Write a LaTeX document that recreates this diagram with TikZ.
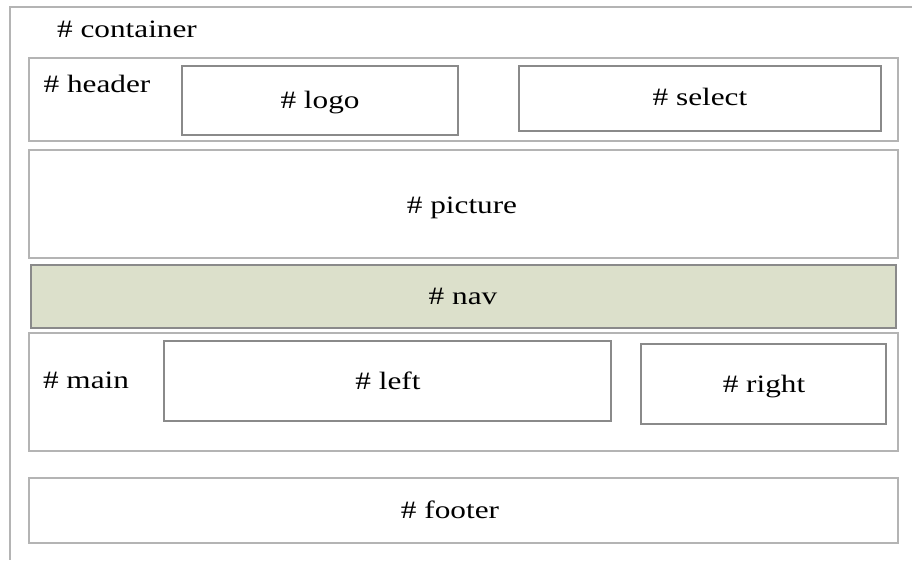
\documentclass[tikz,border=0pt]{standalone}
\usepackage{fontspec}
\setmainfont{Liberation Serif}[FakeStretch=1.25]
\usepackage{xcolor}
\usepackage{tikz}
\definecolor{outerline}{HTML}{B4B4B4}
\definecolor{innerline}{HTML}{8A8A8A}
\definecolor{navfill}{HTML}{DCE0CB}

\begin{document}
\begin{tikzpicture}[x=0.5pt,y=-0.5pt]
\tikzset{outer/.style={draw=outerline, line width=0.8pt},
  inner/.style={draw=innerline, line width=0.7pt},
  lbl/.style={anchor=base, inner sep=0pt, font=\fontsize{12.5}{15}\selectfont}};
\useasboundingbox (0,0) rectangle (912,561);
% container
\draw[outer] (912,7) -- (10,7) -- (10,560);
\node [lbl] (container) at (127,38) {\# container};
% header
\draw[outer] (29,58) rectangle (898,141);
\node [lbl] (header) at (97,93) {\# header};
\draw[inner] (182,66) rectangle (458,135);
\node [lbl] (logo) at (320,109) {\# logo};
\draw[inner] (519,66) rectangle (881,131);
\node [lbl] (select) at (700,106) {\# select};
% picture
\draw[outer] (29,150) rectangle (898,258);
\node [lbl] (picture) at (462,214) {\# picture};
% nav
\draw[inner, fill=navfill] (31,265) rectangle (896,328);
\node [lbl] (nav) at (463,305) {\# nav};
% main
\draw[outer] (29,333) rectangle (898,451);
\node [lbl] (main) at (86,389) {\# main};
\draw[inner] (164,341) rectangle (611,421);
\node [lbl] (left) at (388,390) {\# left};
\draw[inner] (641,344) rectangle (886,424);
\node [lbl] (right) at (764,393) {\# right};
% footer
\draw[outer] (29,478) rectangle (898,543);
\node [lbl] (footer) at (450,519) {\# footer};
\end{tikzpicture}
\end{document}
